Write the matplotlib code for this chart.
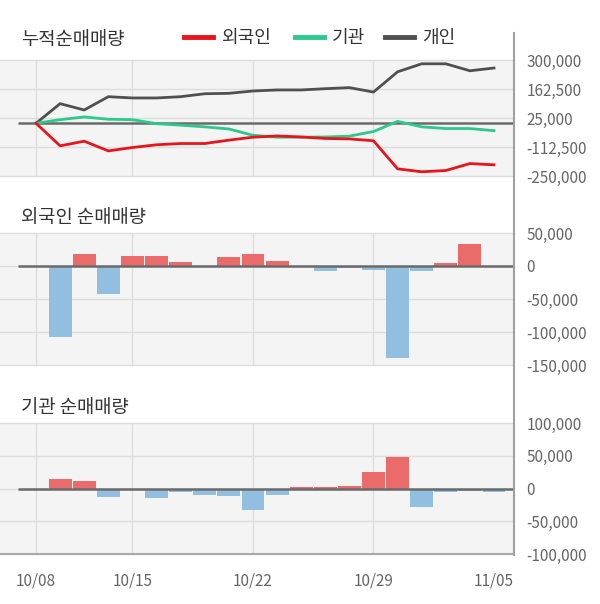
import matplotlib
matplotlib.use("Agg")
import matplotlib.pyplot as plt
from matplotlib.lines import Line2D

plt.rcParams['font.family'] = ['Noto Sans CJK KR', 'DejaVu Sans']

# trading days, 10/08 .. 11/05
dates = ['10/08', '10/10', '10/11', '10/14', '10/15', '10/16', '10/17', '10/18',
         '10/21', '10/22', '10/23', '10/24', '10/25', '10/28', '10/29', '10/30',
         '10/31', '11/01', '11/04', '11/05']
tick_dates = ['10/08', '10/15', '10/22', '10/29', '11/05']

# cumulative net buying
cum_foreign = [0, -107000, -85000, -131000, -115000, -102000, -96000, -96000, -80000, -66000,
               -60000, -65000, -72000, -74000, -83000, -216000, -230000, -224000, -191000, -197000]
cum_inst = [0, 17000, 30000, 19000, 17000, -2000, -9000, -17000, -27000, -57000,
            -66000, -66000, -65000, -61000, -39000, 9000, -17000, -25000, -25000, -35000]
cum_indiv = [0, 93000, 63000, 126000, 120000, 120000, 126000, 140000, 142000, 153000,
             158000, 158000, 164000, 169000, 148000, 244000, 282000, 282000, 249000, 262000]

# daily net buying
day_foreign = [0, -107000, 18000, -43000, 15000, 15000, 6000, 0, 13000, 18000,
               7000, 0, -8000, -3500, -6000, -139000, -8000, 4500, 33000, 0]
day_inst = [0, 14000, 11000, -13000, 0, -14000, -5000, -10000, -11000, -33000,
            -10000, 2500, 2500, 4000, 25000, 48000, -28000, -5000, -3500, -5000]

RED = '#e8141c'
GREEN = '#2bc98c'
DARK = '#505050'
BAR_UP = '#eb6b6b'
BAR_DN = '#92bee0'
BG = '#f4f4f4'
GRID = '#dddddd'
ZERO = '#6a6a6a'
TXT = '#666666'

W, H = 600, 604
fig = plt.figure(figsize=(W / 100, H / 100), dpi=100)

x = list(range(len(dates)))
xmin, xmax = -1.494, 19.83
vgrid = [dates.index(d) for d in tick_dates[:4]]


def make_axes(top, bottom, yticks, fmt_ticks):
    ax = fig.add_axes([0, (H - bottom) / H, 514 / W, (bottom - top) / H])
    ax.set_facecolor(BG)
    ax.set_xlim(xmin, xmax)
    ax.set_ylim(min(yticks), max(yticks))
    for s in ax.spines.values():
        s.set_visible(False)
    for yt in yticks:
        ax.axhline(yt, color=GRID, lw=1, zorder=0, clip_on=False)
    for v in vgrid:
        ax.axvline(v, color=GRID, lw=1, zorder=0)
    ax.yaxis.tick_right()
    ax.set_yticks(yticks)
    ax.set_yticklabels(fmt_ticks)
    ax.tick_params(axis='y', length=0, pad=9, labelsize=11, labelcolor=TXT)
    ax.set_xticks([])
    ax.hlines(0, -0.75, xmax, color=ZERO, lw=1.8, zorder=3)
    return ax


def fmt(vals):
    return ['{:,}'.format(v) for v in vals]


# top: cumulative
t_ticks = [300000, 162500, 25000, -112500, -250000]
ax1 = make_axes(60, 176, t_ticks, fmt(t_ticks))
ax1.plot(x, cum_indiv, color=DARK, lw=2, zorder=4)
ax1.plot(x, cum_inst, color=GREEN, lw=2, zorder=4)
ax1.plot(x, cum_foreign, color=RED, lw=2, zorder=5)

# middle: foreign daily
m_ticks = [50000, 0, -50000, -100000, -150000]
ax2 = make_axes(233, 365, m_ticks, fmt(m_ticks))
ax2.bar(x, day_foreign, width=0.95,
        color=[BAR_UP if v > 0 else BAR_DN for v in day_foreign], zorder=2)

# bottom: institution daily
b_ticks = [100000, 50000, 0, -50000, -100000]
ax3 = make_axes(423, 554, b_ticks, fmt(b_ticks))
ax3.bar(x, day_inst, width=0.95,
        color=[BAR_UP if v > 0 else BAR_DN for v in day_inst], zorder=2)
ax3.spines['bottom'].set_visible(True)
ax3.spines['bottom'].set_color('#aaaaaa')
ax3.spines['bottom'].set_linewidth(1.5)
ax3.set_xticks([dates.index(d) for d in tick_dates])
ax3.set_xticklabels(tick_dates)
ax3.tick_params(axis='x', length=0, pad=13, labelsize=11, labelcolor=TXT)

# titles
fig.text(21 / W, 1 - 40 / H, '누적순매매량', fontsize=13.5, color='#333333', va='center')
fig.text(21 / W, 1 - 218 / H, '외국인 순매매량', fontsize=13.5, color='#333333', va='center')
fig.text(21 / W, 1 - 408 / H, '기관 순매매량', fontsize=13.5, color='#333333', va='center')

# legend
for x0, col, label in [(184, RED, '외국인'), (295, GREEN, '기관'), (385, DARK, '개인')]:
    fig.add_artist(Line2D([x0 / W, (x0 + 29) / W], [1 - 37 / H, 1 - 37 / H],
                          color=col, lw=3.5, transform=fig.transFigure))
    fig.text((x0 + 37) / W, 1 - 38 / H, label, fontsize=13, color='#333333', va='center')

# right divider line
fig.add_artist(Line2D([513.5 / W, 513.5 / W], [1 - 33 / H, 1 - 555 / H],
                      color='#a0a0a0', lw=1.5, transform=fig.transFigure))

fig.savefig('out.png', dpi=100)
